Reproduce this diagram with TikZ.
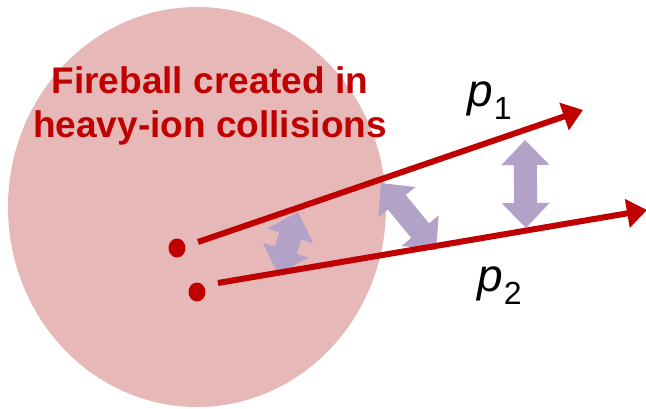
\documentclass[tikz,border=0pt]{standalone}
\usepackage{fontspec}
\setmainfont{Liberation Sans}
\usetikzlibrary{arrows.meta,calc,shapes.geometric}
\definecolor{fireball}{HTML}{E6B9B8}
\definecolor{darkred}{HTML}{C00000}
\definecolor{lav}{HTML}{B3A2C7}
\tikzset{
  track/.style={draw=darkred, line width=6pt, -{Triangle[length=20pt,width=28pt]}},
  vertexdot/.style={ellipse, fill=darkred, inner sep=0pt, minimum width=17pt, minimum height=19pt},
  titletext/.style={text=darkred, font=\fontsize{37}{44}\selectfont\bfseries, inner sep=0pt, anchor=base},
  momlabel/.style={inner sep=0pt, anchor=base west, text=black},
}
\newcommand\dblarrow[2]{%
  \fill[lav] (#1)
    -- ($(#1)!25pt!(#2)!24pt!90:(#2)$)
    -- ($(#1)!25pt!(#2)!11.5pt!90:(#2)$)
    -- ($(#2)!25pt!(#1)!11.5pt!-90:(#1)$)
    -- ($(#2)!25pt!(#1)!24pt!-90:(#1)$)
    -- (#2)
    -- ($(#2)!25pt!(#1)!24pt!90:(#1)$)
    -- ($(#2)!25pt!(#1)!11.5pt!90:(#1)$)
    -- ($(#1)!25pt!(#2)!11.5pt!-90:(#2)$)
    -- ($(#1)!25pt!(#2)!24pt!-90:(#2)$)
    -- cycle;}
\newcommand\momtext[1]{{\fontsize{46}{46}\selectfont\itshape p}\kern1pt\raisebox{-13pt}{\fontsize{32}{32}\selectfont #1}}
\begin{document}
\begin{tikzpicture}[x=1pt,y=-1pt]
  \useasboundingbox (0,0) rectangle (646,408);
  % fireball
  \fill[fireball] (197,207) ellipse (189 and 200);
  \node[titletext] (title1) at (210,93) {Fireball created in};
  \node[titletext] (title2) at (210,137) {heavy-ion collisions};
  % correlation arrows
  \coordinate (a1s) at (298,212);
  \coordinate (a1e) at (278,274);
  \coordinate (a2s) at (381,183);
  \coordinate (a2e) at (436,250);
  \coordinate (a3s) at (525,140);
  \coordinate (a3e) at (526,228);
  \dblarrow{a1s}{a1e}
  \dblarrow{a2s}{a2e}
  \dblarrow{a3s}{a3e}
  % emission points and tracks
  \node[vertexdot] (v1) at (177,248) {};
  \node[vertexdot] (v2) at (197,292) {};
  \coordinate (s1) at (198,242);
  \coordinate (e1) at (583,110);
  \coordinate (s2) at (218,283);
  \coordinate (e2) at (647,210);
  \draw[track] (s1) -- (e1);
  \draw[track] (s2) -- (e2);
  \node[momlabel] (p1) at (467,106) {\momtext{1}};
  \node[momlabel] (p2) at (477,291) {\momtext{2}};
\end{tikzpicture}
\end{document}
